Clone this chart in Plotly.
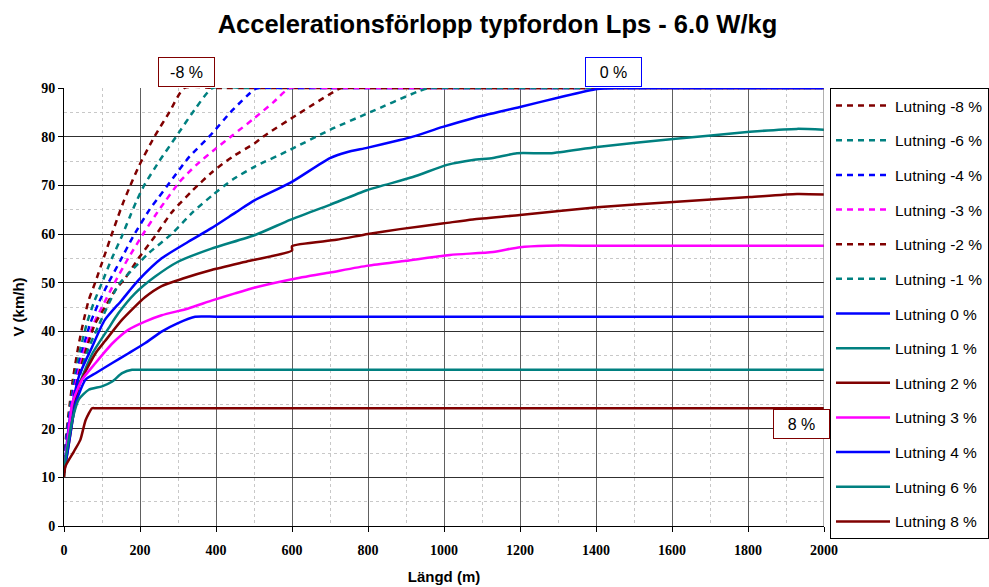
import plotly.graph_objects as go

# ---- data: distance (m) and speed (km/h) per gradient ----
x_m8 = [0, 5, 15, 25, 38, 52, 65, 82, 104, 126, 141, 156, 172, 198, 238, 277, 317, 400, 1000, 2000]
v_m8 = [11, 18, 25, 31, 37, 42.3, 46.4, 50, 55, 60, 63.3, 66.5, 69.5, 74.1, 80, 85, 90, 90, 90, 90]

x_m6 = [0, 6, 17, 28, 42, 60, 78, 100, 126, 152, 172, 191, 211, 251, 295, 347, 391, 480, 1000, 2000]
v_m6 = [11, 18, 25, 30.5, 36, 41.6, 45.8, 50, 55, 59.5, 63.3, 66.8, 70, 75, 80, 85.9, 90, 90, 90, 90]

x_m4 = [0, 7, 19, 31, 48, 69, 91, 117, 148, 182, 225, 246, 286, 330, 382, 444, 501, 512, 600, 1000, 2000]
v_m4 = [11, 18, 25, 30.5, 36, 41.6, 45.8, 50, 54.5, 59.5, 65, 67.2, 71.4, 75.9, 80, 85.5, 89.7, 90, 90, 90, 90]

x_m3 = [0, 8, 21, 34, 53, 78, 100, 134, 169, 209, 246, 268, 304, 347, 400, 444, 501, 550, 595, 700, 1000, 2000]
v_m3 = [11, 18, 25, 30.5, 36, 41.6, 45, 50.1, 55, 60.1, 64.5, 66.9, 70.7, 74.1, 77.6, 80.3, 83.8, 87, 90, 90, 90, 90]

x_m2 = [0, 9, 23, 37, 57, 82, 108, 135, 161, 196, 239, 284, 339, 391, 444, 501, 524, 621, 718, 730, 820, 1200, 2000]
v_m2 = [11, 18, 25, 30.5, 36, 41.6, 45, 48.5, 50.9, 55, 59.5, 64.5, 69, 72.8, 75.9, 78.6, 80, 84.9, 89.6, 90, 90, 90, 90]

x_m1 = [0, 10, 25, 40, 62, 90, 143, 178, 222, 283, 339, 391, 444, 501, 595, 700, 805, 929, 960, 1050, 1400, 2000]
v_m1 = [11, 18, 25, 30.5, 36, 41, 49.5, 52.5, 56, 60, 64.5, 68, 71.2, 73.8, 77.3, 81.4, 85, 89.2, 90, 90, 90, 90]

x_p0 = [0, 15, 39, 74, 107, 152, 196, 257, 327, 388, 453, 501, 595, 700, 744, 797, 884, 918, 997, 1076, 1200, 1305, 1403, 1450, 1600, 2000]
v_p0 = [11, 22, 30.7, 36.8, 42.3, 46.4, 50.5, 55, 58.4, 61.2, 64.5, 66.9, 70.5, 75.6, 76.8, 77.7, 79.3, 80, 82, 83.8, 86.1, 88.1, 89.8, 90, 90, 90]

x_p1 = [0, 15, 40, 75, 117, 143, 187, 239, 300, 388, 503, 595, 700, 797, 918, 1008, 1076, 1129, 1192, 1279, 1403, 1603, 1805, 1929, 2000]
v_p1 = [11, 20, 29, 35.5, 40.6, 43.7, 47.8, 51.2, 54.3, 57, 59.8, 62.9, 66, 69, 71.7, 74.2, 75.2, 75.6, 76.6, 76.6, 77.9, 79.5, 81, 81.6, 81.4]

x_p2 = [0, 15, 39, 83, 108, 153, 213, 257, 311, 388, 489, 600, 600, 717, 800, 884, 1000, 1076, 1200, 1403, 1603, 1805, 1929, 2000]
v_p2 = [11, 18, 28.7, 35.5, 38, 42.4, 47, 49.3, 50.8, 52.6, 54.5, 56.6, 57.5, 58.8, 60, 61, 62.2, 63, 63.9, 65.5, 66.6, 67.6, 68.2, 68.1]

x_p3 = [0, 10, 22, 48, 83, 127, 169, 213, 257, 327, 388, 450, 503, 600, 700, 800, 900, 1016, 1129, 1200, 1271, 1400, 1700, 2000]
v_p3 = [11, 18, 25.3, 30.1, 33.5, 37.5, 40.3, 42, 43.3, 44.7, 46.3, 47.8, 49, 50.7, 52.1, 53.5, 54.5, 55.7, 56.3, 57.3, 57.6, 57.6, 57.6, 57.6]

x_p4 = [0, 9, 31, 57, 83, 127, 170, 214, 258, 300, 345, 400, 600, 1000, 2000]
v_p4 = [11, 15, 25.3, 30.1, 31.4, 33.5, 35.5, 37.6, 40, 41.7, 43, 43, 43, 43, 43]

x_p6 = [0, 4, 22, 39, 65, 100, 127, 153, 179, 190, 250, 600, 1000, 2000]
v_p6 = [10, 13.6, 21.8, 26, 28, 28.7, 29.7, 31.4, 32.1, 32.1, 32.1, 32.1, 32.1, 32.1]

x_p8 = [0, 4, 26, 43, 57, 74, 82, 150, 600, 1000, 2000]
v_p8 = [10, 12.3, 15.3, 17.7, 21.8, 24.2, 24.2, 24.2, 24.2, 24.2, 24.2]

series_names = ["Lutning -8 %", "Lutning -6 %", "Lutning -4 %", "Lutning -3 %", "Lutning -2 %",
                "Lutning -1 %", "Lutning 0 %", "Lutning 1 %", "Lutning 2 %", "Lutning 3 %",
                "Lutning 4 %", "Lutning 6 %", "Lutning 8 %"]
series_x = [x_m8, x_m6, x_m4, x_m3, x_m2, x_m1, x_p0, x_p1, x_p2, x_p3, x_p4, x_p6, x_p8]
series_v = [v_m8, v_m6, v_m4, v_m3, v_m2, v_m1, v_p0, v_p1, v_p2, v_p3, v_p4, v_p6, v_p8]
series_dashed = [True, True, True, True, True, True, False, False, False, False, False, False, False]

x_ticks = list(range(0, 2001, 200))
y_ticks = list(range(0, 91, 10))

MAROON, TEAL, BLUE, MAGENTA = "#800000", "#008080", "#0000FF", "#FF00FF"
colors = [MAROON, TEAL, BLUE, MAGENTA, MAROON, TEAL, BLUE, TEAL, MAROON, MAGENTA, BLUE, TEAL, MAROON]

fig = go.Figure()
for i, (name, xs, vs, dashed, col) in enumerate(zip(series_names, series_x, series_v, series_dashed, colors)):
    fig.add_trace(go.Scatter(
        x=xs, y=vs, name=name, mode="lines",
        line=dict(color=col, width=2.5, dash="6px,5px" if dashed else "solid",
                  shape="spline", smoothing=0.6),
        legendgroup=f"g{i}",
    ))

fig.update_layout(
    width=989, height=587,
    margin=dict(l=64, r=165, t=88, b=61, autoexpand=False),
    paper_bgcolor="white", plot_bgcolor="white",
    title=dict(text="Accelerationsförlopp typfordon Lps - 6.0 W/kg",
               x=0.503, xref="container", xanchor="center", y=1 - 24 / 587, yref="container", yanchor="middle",
               font=dict(family="Liberation Sans, Arial", size=25.5, color="black", weight="bold")),
    showlegend=True,
    legend=dict(x=(830 - 64) / 760, xanchor="left", y=1.0, yanchor="top",
                bgcolor="white", bordercolor="black", borderwidth=1,
                font=dict(family="Liberation Sans, Arial", size=15.5, color="black"),
                tracegroupgap=11.5, itemwidth=54, maxheight=570),
    xaxis=dict(range=[0, 2000], tickvals=x_ticks, ticktext=[str(t) for t in x_ticks],
               showgrid=True, gridcolor="#606060", gridwidth=1,
               minor=dict(dtick=100, tick0=0, showgrid=True, gridcolor="#c8c8c8", griddash="dot", gridwidth=1),
               showline=True, linecolor="black", linewidth=1, mirror=False,
               ticks="outside", ticklen=5, tickcolor="black", ticklabelstandoff=6,
               zeroline=False, automargin=False,
               tickfont=dict(family="Liberation Serif, Times New Roman", size=14, color="black", weight="bold"),
               title=dict(text="Längd (m)", standoff=14,
                          font=dict(family="Liberation Sans, Arial", size=15, color="black", weight="bold"))),
    yaxis=dict(range=[0, 90], tickvals=y_ticks, ticktext=[str(t) for t in y_ticks],
               showgrid=True, gridcolor="#303030", gridwidth=1,
               minor=dict(dtick=5, tick0=0, showgrid=True, gridcolor="#c8c8c8", griddash="dot", gridwidth=1),
               showline=True, linecolor="black", linewidth=1, mirror=False,
               ticks="outside", ticklen=5, tickcolor="black",
               zeroline=False, automargin=False,
               tickfont=dict(family="Liberation Serif, Times New Roman", size=14, color="black", weight="bold"),
               title=dict(text="V (km/h)", standoff=12,
                          font=dict(family="Liberation Sans, Arial", size=15, color="black", weight="bold"))),
)

# right border line of plot area
fig.add_shape(type="line", xref="x", yref="paper", x0=2000, x1=2000, y0=0, y1=1,
              line=dict(color="#606060", width=1))

def callout(text, x, y_paper, col):
    fig.add_annotation(text=text, x=x, y=y_paper, xref="x", yref="paper", showarrow=False,
                       xanchor="center", yanchor="middle",
                       font=dict(family="Liberation Sans, Arial", size=16, color="black"),
                       bgcolor="white", bordercolor=col, borderwidth=1,
                       width=53, height=26, borderpad=1)

callout("-8 %", 322, 93.3 / 90, MAROON)
callout("0 %", 1446, 93.3 / 90, BLUE)
callout("8 %", 1942, 21.0 / 90, MAROON)

fig.write_html("out.html", config={"displayModeBar": False},
               post_script="document.body.style.margin='0';document.body.style.overflow='hidden';")
